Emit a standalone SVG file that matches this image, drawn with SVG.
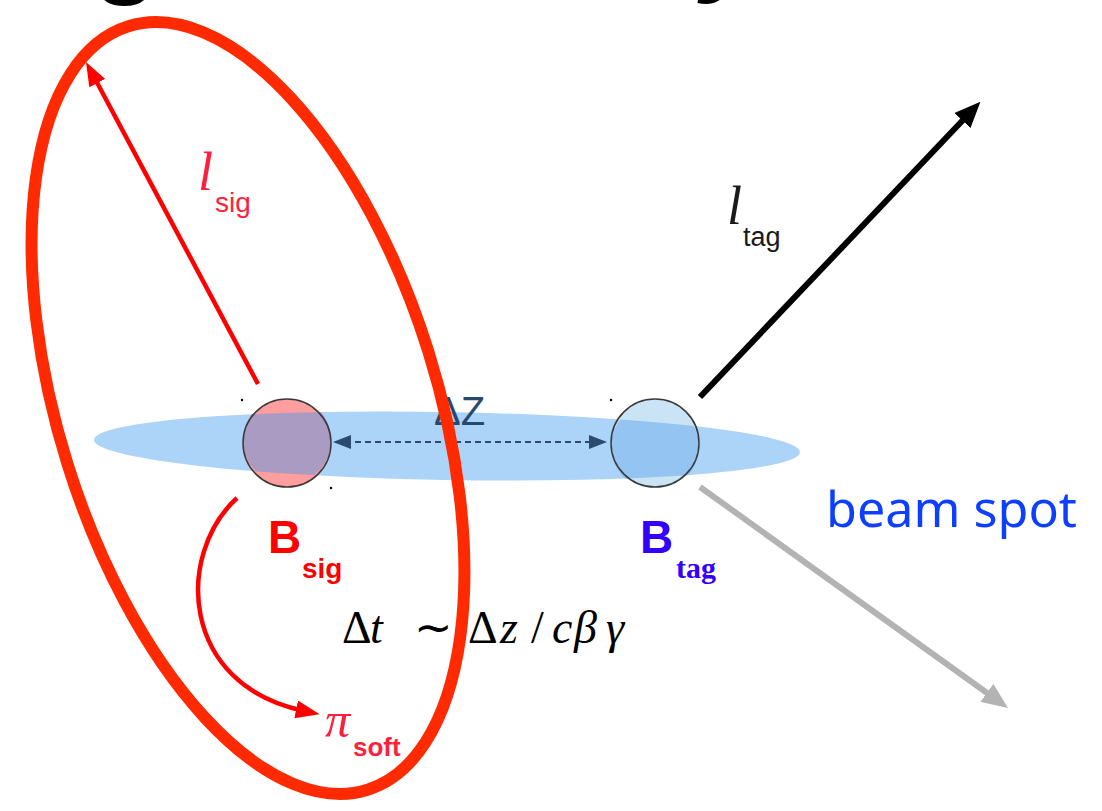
<svg xmlns="http://www.w3.org/2000/svg" width="1102" height="811" viewBox="0 0 1102 811">
<style>
.sans{font-family:"Liberation Sans",Arial,sans-serif}
.serif{font-family:"Liberation Serif","Times New Roman",serif}
.math{font-family:"Liberation Serif","Times New Roman",serif;font-size:46px;fill:#000}
.it{font-style:italic}
.red{fill:#ff1f3d}
</style>
<defs>
<marker id="mRed" viewBox="0 0 24 18" refX="8" refY="9" markerWidth="24" markerHeight="18" markerUnits="userSpaceOnUse" orient="auto"><path d="M0,0 L24,9 L0,18 z" fill="#ff0000"/></marker>
<marker id="mBlack" viewBox="0 0 26 22" refX="8" refY="11" markerWidth="26" markerHeight="22" markerUnits="userSpaceOnUse" orient="auto"><path d="M0,0 L26,11 L0,22 z" fill="#000"/></marker>
<marker id="mGray" viewBox="0 0 26 22" refX="8" refY="11" markerWidth="26" markerHeight="22" markerUnits="userSpaceOnUse" orient="auto"><path d="M0,0 L26,11 L0,22 z" fill="#b3b3b3"/></marker>
<marker id="mBlue" viewBox="0 0 18 14" refX="6" refY="7" markerWidth="18" markerHeight="14" markerUnits="userSpaceOnUse" orient="auto-start-reverse"><path d="M0,0 L18,7 L0,14 z" fill="#2b4b6e"/></marker>
<clipPath id="clipSig"><circle cx="287" cy="443" r="44"/></clipPath>
<clipPath id="clipTag"><circle cx="655" cy="443" r="44"/></clipPath>
</defs>
<rect width="1102" height="811" fill="#fff"/>

<!-- cut-off title fragments -->
<g id="title">
<text x="92" y="-17" class="sans" font-weight="bold" font-size="110" fill="#000">g</text>
<text x="702" y="-19" class="sans" font-weight="bold" font-style="italic" font-size="110" fill="#000">y</text>
</g>

<g id="beamspot">
<ellipse cx="447" cy="446" rx="353" ry="34" transform="rotate(1 447 446)" fill="#acd3f8"/>
<text x="826" y="527" class="sans" font-size="50" fill="#0d3fff" textLength="251" lengthAdjust="spacingAndGlyphs" style="font-family:'Noto Sans','Liberation Sans',sans-serif">beam spot</text>
</g>

<g id="Bsig">
<circle cx="287" cy="443" r="44" fill="#ff9e9e"/>
<ellipse cx="447" cy="446" rx="353" ry="34" transform="rotate(1 447 446)" fill="#a99bc1" clip-path="url(#clipSig)"/>
<circle cx="287" cy="443" r="44" fill="none" stroke="#3a3a3a" stroke-width="1.5"/>
<circle cx="242" cy="400" r="1.2" fill="#000"/>
<circle cx="331" cy="488" r="1.2" fill="#000"/>
<text x="268" y="553" class="sans" font-weight="bold" font-size="46" fill="#ff0000">B</text>
<text x="302" y="578" class="sans" font-weight="bold" font-size="28" fill="#ff0000">sig</text>
</g>

<g id="Btag">
<circle cx="655" cy="443" r="44" fill="#cbe4f5"/>
<ellipse cx="447" cy="446" rx="353" ry="34" transform="rotate(1 447 446)" fill="#93c4f2" clip-path="url(#clipTag)"/>
<circle cx="655" cy="443" r="44" fill="none" stroke="#3a3a3a" stroke-width="1.5"/>
<circle cx="611" cy="400" r="1.2" fill="#000"/>
<text x="640" y="553" class="sans" font-weight="bold" font-size="46" fill="#3300ff">B</text>
<text x="676" y="578" class="serif" font-weight="bold" font-size="30" fill="#3300ff">tag</text>
</g>

<g id="connectors" fill="none">
<line id="lsig-arrow" x1="258" y1="384" x2="93.5" y2="76" stroke="#ff0000" stroke-width="4.5" marker-end="url(#mRed)"/>
<line id="ltag-arrow" x1="700" y1="397" x2="968" y2="114.8" stroke="#000" stroke-width="6" marker-end="url(#mBlack)"/>
<line id="gray-arrow" x1="700" y1="487" x2="993.4" y2="697.5" stroke="#b3b3b3" stroke-width="6" marker-end="url(#mGray)"/>
<line id="dz-arrow" x1="345" y1="442" x2="595" y2="442" stroke="#2b4b6e" stroke-width="2" stroke-dasharray="6 4" marker-start="url(#mBlue)" marker-end="url(#mBlue)"/>
<path id="pi-arrow" d="M237,498 C175,555 180,685 304,711" stroke="#ff0000" stroke-width="4.5" marker-end="url(#mRed)"/>
</g>

<g id="labels">
<text x="198" y="190" class="serif it red" font-size="54">l</text>
<text x="215" y="212" class="sans red" font-size="28">sig</text>
<text x="727" y="224" class="serif it" font-size="54" fill="#1a1a1a">l</text>
<text x="743" y="246" class="sans" font-size="27" fill="#1a1a1a">tag</text>
<text x="434" y="425" class="sans" font-size="40" fill="#27496e">ΔZ</text>
<text x="325" y="737" class="serif it red" font-size="50">π</text>
<text x="353" y="756" class="sans red" font-weight="bold" font-size="26">soft</text>
<text class="math" y="643"><tspan x="342">Δ</tspan><tspan x="370" class="it">t</tspan><tspan x="414">∼</tspan><tspan x="468">Δ</tspan><tspan x="500" class="it">z</tspan><tspan x="531">/</tspan><tspan x="552" class="it">c</tspan><tspan x="574" class="it">β</tspan><tspan x="606" class="it">γ</tspan></text>
</g>

<g id="highlight">
<ellipse cx="248" cy="408" rx="189" ry="400" transform="rotate(-17.4 248 408)" fill="none" stroke="#ff2a00" stroke-width="12"/>
</g>
</svg>
